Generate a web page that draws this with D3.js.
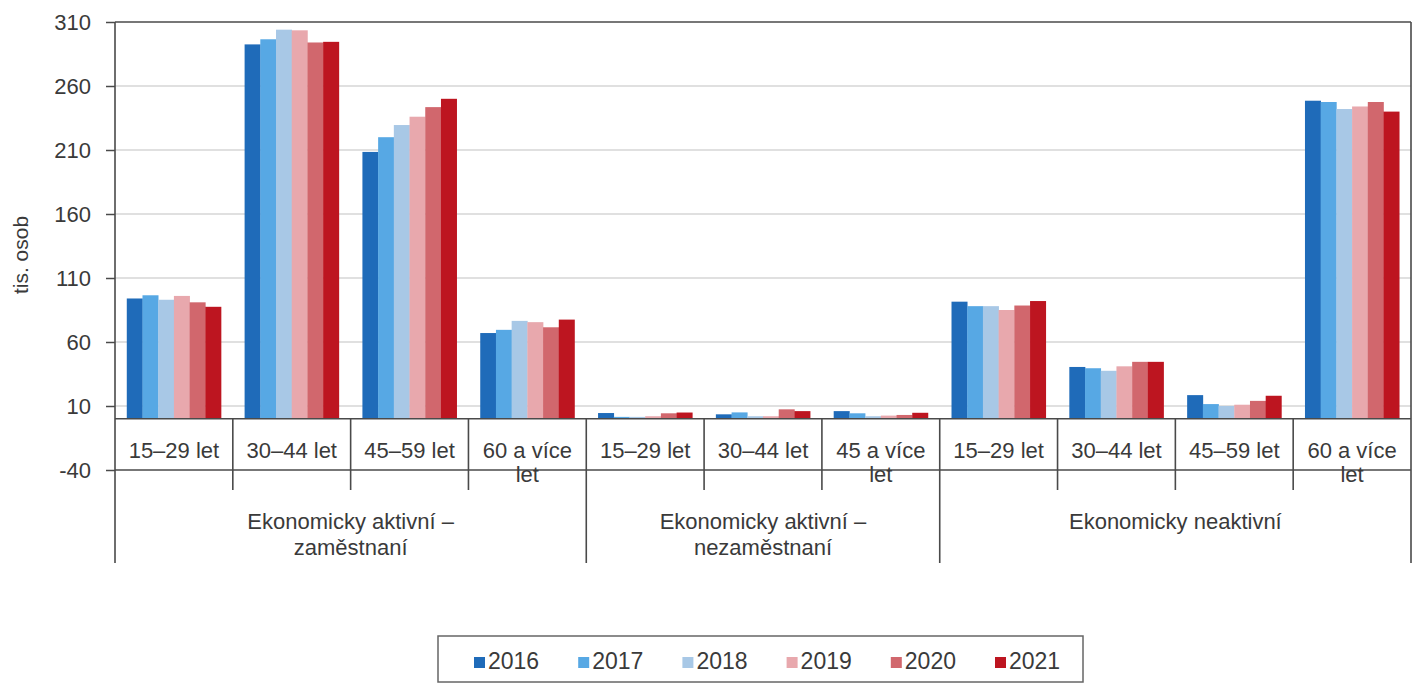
<!DOCTYPE html>
<html>
<head>
<meta charset="utf-8">
<script src="https://cdn.jsdelivr.net/npm/d3@7"></script>
<style>
  html, body { margin: 0; padding: 0; background: #fff; }
  svg { display: block; }
  text { font-family: "Liberation Sans", Arial, sans-serif; fill: #3a3a3a; }
</style>
</head>
<body>
<svg id="chart" width="1416" height="684"></svg>
<script>
// ---- data ----
const categories = ["Z 15–29", "Z 30–44", "Z 45–59", "Z 60+", "N 15–29", "N 30–44", "N 45+", "I 15–29", "I 30–44", "I 45–59", "I 60+"];
const categoryLabels = [["15–29 let"], ["30–44 let"], ["45–59 let"], ["60 a více", "let"],
                        ["15–29 let"], ["30–44 let"], ["45 a více", "let"],
                        ["15–29 let"], ["30–44 let"], ["45–59 let"], ["60 a více", "let"]];
const groupLabels = [["Ekonomicky aktivní –", "zaměstnaní"], ["Ekonomicky aktivní –", "nezaměstnaní"], ["Ekonomicky neaktivní"]];
const groupSizes = [4, 3, 4];
const years = ["2016", "2017", "2018", "2019", "2020", "2021"];
const v2016 = [94, 292.5, 208.5, 67, 4.5, 3.5, 6, 91.5, 40.5, 18.5, 248.5];
const v2017 = [96.5, 296.5, 220, 69.5, 1.5, 5, 4.3, 88, 39.5, 11.5, 247.5];
const v2018 = [93, 304, 229.5, 76.5, 1.5, 2, 2, 88, 37.5, 10, 242];
const v2019 = [96, 303.5, 236, 75.5, 2, 2, 2.5, 85, 41, 11, 244];
const v2020 = [91, 294, 243.5, 71.5, 4.3, 7.4, 3, 88.5, 44.5, 14, 247.5];
const v2021 = [87.5, 294.5, 250, 77.5, 4.9, 6, 4.7, 92, 44.5, 18, 240];
const series = [v2016, v2017, v2018, v2019, v2020, v2021];
const colors = ["#1f6bb9", "#57a8e4", "#a8c8e6", "#e8a8ad", "#d1676d", "#bd1520"];
const yTicks = [-40, 10, 60, 110, 160, 210, 260, 310];
const yTitle = "tis. osob";

// ---- layout ----
const L = 115, R = 1411, T = 22, B = 470;
const axisColor = "#4a4a4a";
const svg = d3.select("#chart");

const x = d3.scaleBand().domain(categories).range([L, R]).padding(0);
const bw = x.bandwidth();
const xYear = d3.scaleBand().domain(years).range([bw * 0.1, bw * 0.9]).padding(0);
const y = d3.scaleLinear().domain([-40, 310]).range([B, T]);

// gridlines
svg.append("g").selectAll("line").data(yTicks.filter(t => t > -40 && t < 310)).join("line")
  .attr("x1", L).attr("x2", R).attr("y1", d => y(d)).attr("y2", d => y(d))
  .attr("stroke", "#d6d6d6").attr("stroke-width", 1.6);

// bars
const gBars = svg.append("g");
series.forEach((vals, si) => {
  gBars.append("g").attr("fill", colors[si]).selectAll("rect").data(vals).join("rect")
    .attr("x", (d, i) => x(categories[i]) + xYear(years[si]))
    .attr("width", xYear.bandwidth() + 0.3)
    .attr("y", d => y(Math.max(0, d)))
    .attr("height", d => Math.abs(y(d) - y(0)));
});

// y axis
const yAxis = d3.axisLeft(y).tickValues(yTicks).tickSize(9).tickPadding(15).tickFormat(d => String(d));
const gy = svg.append("g").attr("transform", `translate(${L},0)`).call(yAxis);
gy.select(".domain").remove();
gy.selectAll(".tick line").attr("stroke", axisColor).attr("stroke-width", 1.5);
gy.selectAll(".tick text").style("font-size", "22px").style("font-family", "Liberation Sans, Arial, sans-serif").attr("fill", "#3a3a3a");

// frame and category table lines
const lines = svg.append("g").attr("stroke", axisColor).attr("stroke-width", 1.6).attr("fill", "none");
lines.append("line").attr("x1", L).attr("x2", R).attr("y1", T).attr("y2", T);
lines.append("line").attr("x1", L).attr("x2", R).attr("y1", y(0)).attr("y2", y(0));
lines.append("line").attr("x1", L).attr("x2", R).attr("y1", y(-40)).attr("y2", y(-40));
lines.append("line").attr("x1", L).attr("x2", L).attr("y1", T).attr("y2", 563);
lines.append("line").attr("x1", R).attr("x2", R).attr("y1", T).attr("y2", 563);
const groupBounds = d3.cumsum(groupSizes);
categories.slice(1).forEach((c, k) => {
  const i = k + 1;
  const isGroup = groupBounds.includes(i);
  lines.append("line").attr("x1", x(c)).attr("x2", x(c)).attr("y1", y(0)).attr("y2", isGroup ? 563 : 490);
});

// category labels
const gCat = svg.append("g").attr("text-anchor", "middle").style("font-size", "22px");
categoryLabels.forEach((lab, i) => {
  const cx = x(categories[i]) + bw / 2;
  lab.forEach((ln, j) => {
    gCat.append("text").attr("x", cx).attr("y", 458 + j * 24).text(ln);
  });
});

// group labels
const gGrp = svg.append("g").attr("text-anchor", "middle").style("font-size", "22px");
let start = 0;
groupLabels.forEach((lab, gi) => {
  const x0 = x(categories[start]);
  const x1 = x(categories[start + groupSizes[gi] - 1]) + bw;
  lab.forEach((ln, j) => {
    gGrp.append("text").attr("x", (x0 + x1) / 2).attr("y", 529 + j * 26).text(ln);
  });
  start += groupSizes[gi];
});

// y title
svg.append("text").attr("transform", "translate(28,255) rotate(-90)")
  .attr("text-anchor", "middle").style("font-size", "21px").text(yTitle);

// legend
const lg = svg.append("g");
lg.append("rect").attr("x", 438).attr("y", 636).attr("width", 645).attr("height", 46)
  .attr("fill", "#fff").attr("stroke", "#666").attr("stroke-width", 1.5);
const lx = d3.scalePoint().domain(years).range([474, 995]);
years.forEach((yr, i) => {
  lg.append("rect").attr("x", lx(yr)).attr("y", 657).attr("width", 11).attr("height", 11).attr("fill", colors[i]);
  lg.append("text").attr("x", lx(yr) + 14).attr("y", 669).style("font-size", "23px").text(yr);
});
</script>
</body>
</html>
